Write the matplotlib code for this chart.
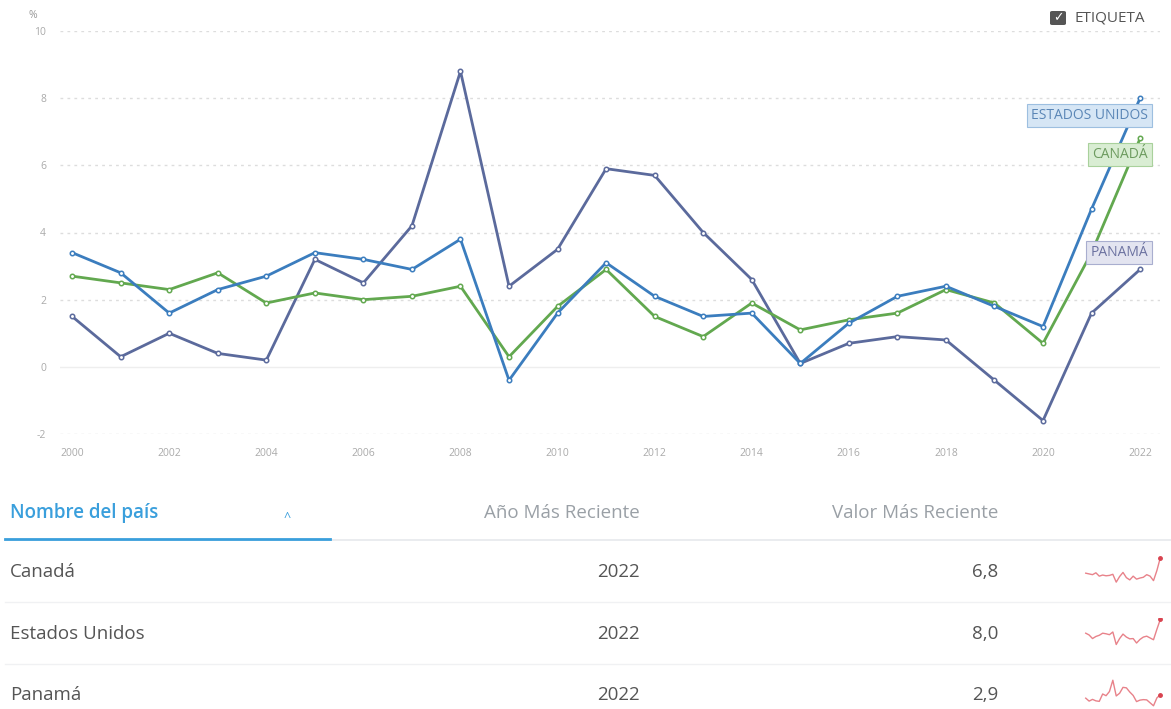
import matplotlib
matplotlib.use('Agg')
import matplotlib.pyplot as plt
from matplotlib.patches import FancyBboxPatch
from matplotlib.lines import Line2D

plt.rcParams['font.family'] = ['Open Sans', 'DejaVu Sans']
plt.rcParams['axes.unicode_minus'] = False

years = list(range(2000, 2023))
usa = [3.4, 2.8, 1.6, 2.3, 2.7, 3.4, 3.2, 2.9, 3.8, -0.4, 1.6, 3.1, 2.1, 1.5, 1.6,
       0.1, 1.3, 2.1, 2.4, 1.8, 1.2, 4.7, 8.0]
canada = [2.7, 2.5, 2.3, 2.8, 1.9, 2.2, 2.0, 2.1, 2.4, 0.3, 1.8, 2.9, 1.5, 0.9, 1.9,
          1.1, 1.4, 1.6, 2.3, 1.9, 0.7, 3.4, 6.8]
panama = [1.5, 0.3, 1.0, 0.4, 0.2, 3.2, 2.5, 4.2, 8.8, 2.4, 3.5, 5.9, 5.7, 4.0, 2.6,
          0.1, 0.7, 0.9, 0.8, -0.4, -1.6, 1.6, 2.9]

y_ticks = [-2, 0, 2, 4, 6, 8, 10]
x_ticks = list(range(2000, 2023, 2))

table_names = ["Canadá", "Estados Unidos", "Panamá"]
table_years = ["2022", "2022", "2022"]
table_values = ["6,8", "8,0", "2,9"]

W, H = 1171, 709
fig = plt.figure(figsize=(W / 100, H / 100), dpi=100)


def fx(px):
    return px / W


def fy(py):
    return 1 - py / H


# main chart
ax = fig.add_axes([fx(60), fy(434), fx(1160 - 60), (434 - 31) / H])
ax.set_xlim(1999.75, 2022.41)
ax.set_ylim(-2, 10)
for s in ax.spines.values():
    s.set_visible(False)
ax.set_yticks(y_ticks)
ax.set_xticks(x_ticks)
ax.tick_params(length=0, labelsize=7.5, colors="#aaaaaa")
ax.tick_params(axis="x", pad=10)
ax.tick_params(axis="y", pad=10)
for v in y_ticks:
    if v == 0:
        ax.axhline(v, color="#eeeeee", lw=1.0, zorder=0)
    else:
        ax.axhline(v, color="#dddddd", lw=1.0, ls=(0, (2, 3)), zorder=0)

series = [
    ("PANAMÁ", panama, "#5b6a9c", "#e3e4f0", "#a9aecf", "#6b71a0", 17),
    ("CANADÁ", canada, "#62a84f", "#d9edd3", "#a9d19c", "#6c9a5e", -16),
    ("ESTADOS UNIDOS", usa, "#3b7dbe", "#d6e6f5", "#9dbfe0", "#5a86b6", -17),
]
for name, vals, col, fc, ec, tc, dy in series:
    ax.plot(years, vals, color=col, lw=2.0, marker="o", ms=3.2,
            mfc="white", mec=col, mew=1.1, zorder=3)
    ax.annotate(name, xy=(years[-1], vals[-1]), xytext=(8, dy),
                textcoords="offset pixels", ha="right", va="center",
                fontsize=10, color=tc, zorder=5,
                bbox=dict(boxstyle="square,pad=0.3", fc=fc, ec=ec, lw=0.8))

fig.text(fx(33), fy(15), "%", fontsize=7.5, color="#999999", ha="center", va="center")

# ETIQUETA checkbox
fig.patches.append(FancyBboxPatch((fx(1050), fy(25)), fx(16), 14 / H,
                                  boxstyle="round,pad=0,rounding_size=0.002",
                                  fc="#555555", ec="none", transform=fig.transFigure))
fig.text(fx(1058), fy(18), "✓", fontsize=9, color="white", ha="center", va="center",
         family="DejaVu Sans", fontweight="bold")
fig.text(fx(1074), fy(18), "ETIQUETA", fontsize=11, color="#555555", ha="left", va="center")

# table header
fs = 13.5
fig.text(fx(10), fy(513), "Nombre del país", fontsize=fs, color="#3a9fdc",
         ha="left", va="center", fontweight="semibold")
fig.text(fx(287), fy(517), "^", fontsize=9, color="#3a9fdc", ha="center", va="center")
fig.text(fx(640), fy(513), "Año Más Reciente", fontsize=fs, color="#9aa0a6",
         ha="right", va="center")
fig.text(fx(998), fy(513), "Valor Más Reciente", fontsize=fs, color="#9aa0a6",
         ha="right", va="center")

fig.add_artist(Line2D([fx(5), fx(1171)], [fy(540), fy(540)], color="#e6e9ec", lw=1.2))
fig.add_artist(Line2D([fx(5), fx(330)], [fy(539), fy(539)], color="#3a9fdc", lw=2.0))
for py in (602, 664):
    fig.add_artist(Line2D([fx(5), fx(1171)], [fy(py), fy(py)], color="#f0f1f3", lw=1.0))

row_y = [572, 634, 695]
spark_data = [canada, usa, panama]
for i in range(3):
    fig.text(fx(10), fy(row_y[i]), table_names[i], fontsize=fs, color="#555555",
             ha="left", va="center")
    fig.text(fx(640), fy(row_y[i]), table_years[i], fontsize=fs, color="#555555",
             ha="right", va="center")
    fig.text(fx(998), fy(row_y[i]), table_values[i], fontsize=fs, color="#555555",
             ha="right", va="center")
    sax = fig.add_axes([fx(1082), fy(row_y[i] + 12), fx(82), 28 / H])
    vals = spark_data[i]
    sax.plot(years, vals, color="#e8828a", lw=1.0)
    sax.plot(years[-1], vals[-1], "o", color="#d9434f", ms=2.5)
    sax.set_ylim(min(vals) - 0.5, max(vals) + 0.5)
    sax.axis("off")

plt.savefig("out.png", dpi=100, facecolor="white")
